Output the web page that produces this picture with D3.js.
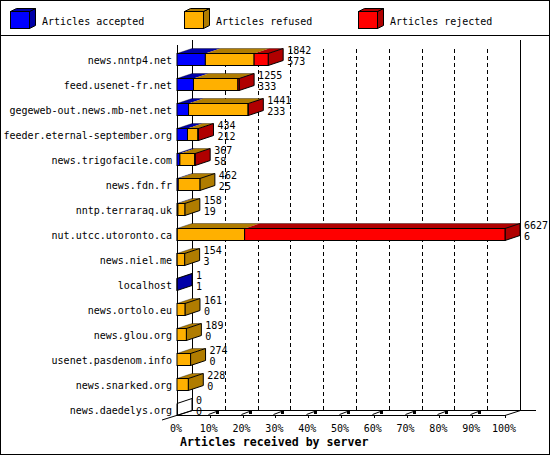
<!DOCTYPE html>
<html>
<head>
<meta charset="utf-8">
<script src="https://cdn.jsdelivr.net/npm/d3@7"></script>
<style>
  body { margin: 0; background: #fff; }
  text { font-family: "DejaVu Sans Mono", "Liberation Mono", monospace; font-size: 10px; fill: #000; }
</style>
</head>
<body>
<svg id="chart" width="550" height="455"></svg>
<script>
// --- Data
const servers = ["news.nntp4.net", "feed.usenet-fr.net", "gegeweb-out.news.mb-net.net",
  "feeder.eternal-september.org", "news.trigofacile.com", "news.fdn.fr", "nntp.terraraq.uk",
  "nut.utcc.utoronto.ca", "news.niel.me", "localhost", "news.ortolo.eu", "news.glou.org",
  "usenet.pasdenom.info", "news.snarked.org", "news.daedelys.org"];
const totals   = [1842, 1255, 1441, 434, 367, 462, 158, 6627, 154, 1, 161, 189, 274, 228, 0];
const accepted = [573, 333, 233, 212, 58, 25, 19, 6, 3, 1, 0, 0, 0, 0, 0];
const refused  = [985, 897, 1203, 210, 300, 437, 139, 1360, 151, 0, 161, 189, 274, 228, 0];
const rejected = [284, 25, 5, 12, 9, 0, 0, 5261, 0, 0, 0, 0, 0, 0, 0];
const seriesNames = ["Articles accepted", "Articles refused", "Articles rejected"];
const pctTicks = [0, 10, 20, 30, 40, 50, 60, 70, 80, 90, 100];

const front = ["#0000ff", "#ffb000", "#ff0000"];
const dark  = ["#0000a8", "#b07c00", "#b00000"];

const svg = d3.select("#chart");
const W = 550, H = 455;
const DX = 15, DY = 5, BH = 12;

// --- Scales
const x = d3.scaleLinear().domain([0, d3.max(totals)]).range([177, 505]);
const pct = d3.scaleLinear().domain([0, 100]).range([177, 505]);
const y = d3.scaleBand().domain(servers).range([46.5, 421.5]);

// --- Frame
svg.append("rect").attr("x", 0.5).attr("y", 0.5).attr("width", W - 1).attr("height", H - 1)
  .attr("fill", "#fff").attr("stroke", "#000");
svg.append("line").attr("x1", 0).attr("x2", W).attr("y1", 35.5).attr("y2", 35.5).attr("stroke", "#000");

// --- Legend
const legendX = [10, 184, 358];
seriesNames.forEach((name, i) => {
  const g = svg.append("g").attr("transform", `translate(${legendX[i]},11)`);
  g.append("path").attr("d", "M19.5,0.5 L25.5,-2.5 L25.5,14.5 L19.5,17.5 Z")
    .attr("fill", dark[i]).attr("stroke", "#000");
  g.append("path").attr("d", "M0.5,0.5 L6.5,-2.5 L25.5,-2.5 L19.5,0.5 Z")
    .attr("fill", dark[i]).attr("stroke", "#000");
  g.append("rect").attr("x", 0.5).attr("y", 0.5).attr("width", 19).attr("height", 17)
    .attr("fill", front[i]).attr("stroke", "#000");
  svg.append("text").attr("x", legendX[i] + 32).attr("y", 25).text(name);
});

// --- Walls and grid
const floorF = 415, floorB = floorF - DY, plotTop = 45;
svg.selectAll(".grid")
  .data(pctTicks.slice(1, -1))
  .enter().append("line")
  .attr("x1", d => Math.round(pct(d) + DX) + 0.5)
  .attr("x2", d => Math.round(pct(d) + DX) + 0.5)
  .attr("y1", plotTop + 4).attr("y2", floorB)
  .attr("stroke", "#000").attr("stroke-dasharray", "4,3");

const axes = svg.append("g").attr("stroke", "#000").attr("fill", "none");
axes.append("line").attr("x1", 177.5).attr("x2", 177.5).attr("y1", plotTop).attr("y2", floorF);
axes.append("line").attr("x1", 192.5).attr("x2", 192.5).attr("y1", plotTop - DY).attr("y2", floorB);
axes.append("line").attr("x1", 520.5).attr("x2", 520.5).attr("y1", plotTop - DY).attr("y2", floorB);
axes.append("line").attr("x1", 192).attr("x2", 536).attr("y1", floorB + 0.5).attr("y2", floorB + 0.5);
axes.append("line").attr("x1", 177).attr("x2", 505).attr("y1", floorF + 0.5).attr("y2", floorF + 0.5);
axes.append("line").attr("x1", 162).attr("y1", 420).attr("x2", 192.5).attr("y2", floorB + 0.5);
axes.append("line").attr("x1", 505).attr("y1", floorF + 0.5).attr("x2", 520.5).attr("y2", floorB + 0.5);

// --- Floor ticks
pctTicks.slice(1).forEach(d => {
  const tx = Math.round(pct(d)) + 0.5;
  axes.append("line").attr("x1", tx).attr("x2", tx).attr("y1", floorF).attr("y2", floorF + 3);
  if (d < 100) {
    axes.append("line").attr("x1", tx - 2).attr("y1", floorF - 0.5).attr("x2", tx + 6).attr("y2", floorF - 3.5);
    svg.append("rect").attr("x", tx + 5.5).attr("y", floorB + 1).attr("width", 3).attr("height", 3).attr("fill", "#000");
  }
});

// --- Tick labels
svg.selectAll(".tick-label")
  .data(pctTicks)
  .enter().append("text")
  .attr("x", d => pct(d) - 1)
  .attr("y", 432)
  .attr("text-anchor", "middle")
  .text(d => d + "%");

svg.append("text").attr("x", 180).attr("y", 446)
  .style("font-weight", "bold").style("font-size", "11.6px")
  .text("Articles received by server");

// --- Bars
servers.forEach((s, i) => {
  const vals = [accepted[i], refused[i], rejected[i]];
  const yt = Math.round(y(s) + y.bandwidth() / 2 - BH / 2) + 0.5;
  const yb = yt + BH;
  const g = svg.append("g");
  let cum = 0, last = -1;
  const segs = [];
  vals.forEach((v, k) => {
    if (v > 0) {
      segs.push({ k, x0: x(cum), x1: x(cum + v) });
      last = k;
    }
    cum += v;
  });
  // top faces
  segs.forEach(sg => {
    g.append("path")
      .attr("d", `M${sg.x0},${yt} L${sg.x1},${yt} L${sg.x1 + DX},${yt - DY} L${sg.x0 + DX},${yt - DY} Z`)
      .attr("fill", dark[sg.k]);
  });
  const xe = x(cum);
  // side face
  g.append("path")
    .attr("d", `M${xe},${yt} L${xe + DX},${yt - DY} L${xe + DX},${yb - DY} L${xe},${yb} Z`)
    .attr("fill", last >= 0 ? dark[last] : "none")
    .attr("stroke", "#000");
  if (segs.length) {
    g.append("path")
      .attr("d", `M${x(0)},${yt} L${x(0) + DX},${yt - DY} L${xe + DX},${yt - DY}`)
      .attr("fill", "none").attr("stroke", "#000").attr("stroke-opacity", 0.35);
  }
  // front faces
  segs.forEach(sg => {
    g.append("rect")
      .attr("x", sg.x0).attr("y", yt)
      .attr("width", Math.max(0, sg.x1 - sg.x0)).attr("height", BH)
      .attr("fill", front[sg.k]).attr("stroke", "#000");
  });
  // value labels
  svg.append("text").attr("x", xe + DX + 4).attr("y", yt + 0.5).text(totals[i]);
  svg.append("text").attr("x", xe + DX + 4).attr("y", yt + 11.5).text(accepted[i]);
  // category label
  svg.append("text").attr("x", 172).attr("y", yt + 10)
    .attr("text-anchor", "end").text(s);
});
</script>
</body>
</html>
